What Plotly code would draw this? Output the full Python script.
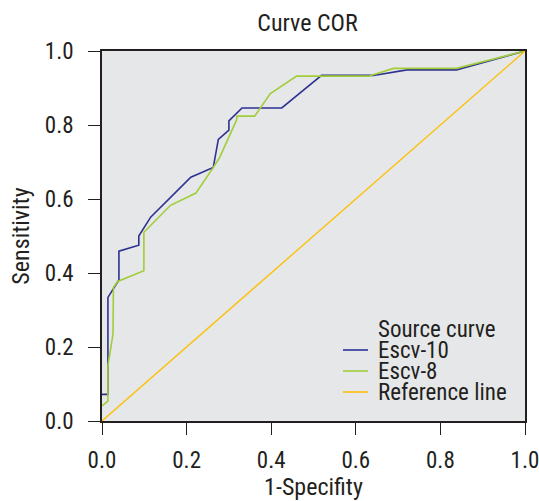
import plotly.graph_objects as go

# Escv-10 ROC curve
fpr_escv10 = [0, 0.014, 0.014, 0.040, 0.040, 0.087, 0.087, 0.115, 0.210, 0.263, 0.275, 0.300, 0.300,
              0.331, 0.425, 0.519, 0.642, 0.721, 0.838, 1.0]
tpr_escv10 = [0.072, 0.072, 0.334, 0.381, 0.459, 0.475, 0.500, 0.551, 0.659, 0.685, 0.761, 0.786, 0.811,
              0.846, 0.846, 0.934, 0.934, 0.949, 0.949, 1.0]

# Escv-8 ROC curve
fpr_escv8 = [0, 0.014, 0.014, 0.026, 0.027, 0.037, 0.099, 0.099, 0.162, 0.222, 0.263, 0.278, 0.318,
             0.319, 0.361, 0.398, 0.460, 0.630, 0.689, 0.838, 1.0]
tpr_escv8 = [0.041, 0.054, 0.149, 0.235, 0.361, 0.377, 0.406, 0.510, 0.583, 0.616, 0.685, 0.712, 0.813,
             0.824, 0.824, 0.885, 0.932, 0.932, 0.953, 0.953, 1.0]

# Reference line
ref_x = [0, 1]
ref_y = [0, 1]

tick_vals = [0, 0.2, 0.4, 0.6, 0.8, 1.0]
tick_text = ["0.0", "0.2", "0.4", "0.6", "0.8", "1.0"]

series_names = ["Escv-10", "Escv-8", "Reference line"]
series_colors = ["#2E3192", "#A2CD3A", "#FDC00F"]
legend_title = "Source curve"

FONT = "Roboto Condensed, Liberation Sans, Arial, sans-serif"
TXT = "#231F20"
WGT = 380
FS = 23
FT = 24

W, H = 539, 501
L, R, T, B = 102, 14, 51, 80
pw, ph = W - L - R, H - T - B

def px_x(p):
    return (p - L) / pw

def px_y(p):
    return (H - B - p) / ph

def fnt(size):
    return dict(family=FONT, size=size, color=TXT, weight=WGT)

fig = go.Figure()
fig.add_trace(go.Scatter(x=fpr_escv10, y=tpr_escv10, mode="lines", name=series_names[0],
                         line=dict(color=series_colors[0], width=1.6)))
fig.add_trace(go.Scatter(x=fpr_escv8, y=tpr_escv8, mode="lines", name=series_names[1],
                         line=dict(color=series_colors[1], width=1.6)))
fig.add_trace(go.Scatter(x=ref_x, y=ref_y, mode="lines", name=series_names[2],
                         line=dict(color=series_colors[2], width=1.4)))

axis_common = dict(
    range=[0, 1], tickvals=tick_vals, ticktext=tick_text,
    showgrid=False, zeroline=False, automargin=False,
    showline=True, mirror=True, linecolor="#231F20", linewidth=1.5,
    ticks="outside", ticklen=12, tickwidth=1, tickcolor="#231F20",
    tickfont=fnt(FS), ticklabeloverflow="allow",
)

# Manual legend (title + entries), positioned inside the plot area
annotations = [dict(text=legend_title, xref="paper", yref="paper",
                    x=px_x(376), xanchor="left", y=px_y(329), yanchor="middle",
                    showarrow=False, font=fnt(FS))]
shapes = []
for i, (nm, col) in enumerate(zip(series_names, series_colors)):
    yc = 350 + 21 * i
    annotations.append(dict(text=nm, xref="paper", yref="paper",
                            x=px_x(376), xanchor="left", y=px_y(yc), yanchor="middle",
                            showarrow=False, font=fnt(FS)))
    shapes.append(dict(type="line", xref="paper", yref="paper",
                       x0=px_x(343), x1=px_x(368), y0=px_y(yc), y1=px_y(yc),
                       line=dict(color=col, width=1.6)))

fig.update_layout(
    width=W, height=H,
    margin=dict(l=L, r=R, t=T, b=B),
    paper_bgcolor="white", plot_bgcolor="#E6E7E8",
    font=fnt(FS),
    title=dict(text="Curve COR", x=307.5 / W, xanchor="center", y=1 - 23 / H, yanchor="middle",
               font=fnt(FT)),
    xaxis=dict(**axis_common, ticklabelstandoff=6,
               title=dict(text="1-Specifity", standoff=16, font=fnt(FT))),
    yaxis=dict(**axis_common, ticklabelstandoff=10,
               title=dict(text="Sensitivity", standoff=8, font=fnt(FT))),
    showlegend=False,
    annotations=annotations,
    shapes=shapes,
)

fig.write_html("out.html", config={"displayModeBar": False},
               post_script="document.body.style.margin='0px';")
